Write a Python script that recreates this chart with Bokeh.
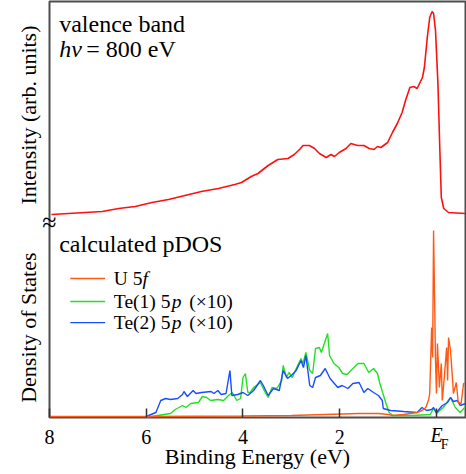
from bokeh.plotting import figure
from bokeh.models import Range1d, FixedTicker, LinearAxis
from bokeh.models import Label
from bokeh.embed import file_html
from bokeh.resources import INLINE
import math

# ---------------- data ----------------
vb_energy = [7.96, 7.26, 6.91, 6.57, 6.23, 5.88, 5.54, 5.20, 4.86, 4.51, 4.17, 4.03, 3.83, 3.69,
             3.48, 3.28, 3.07, 2.94, 2.83, 2.76, 2.63, 2.52, 2.42, 2.28, 2.18, 2.11, 2.01, 1.87,
             1.77, 1.63, 1.50, 1.39, 1.29, 1.22, 1.15, 1.01, 0.91, 0.81, 0.71, 0.64, 0.55, 0.47,
             0.40, 0.29, 0.25, 0.19, 0.14, 0.09, 0.06, 0.02, -0.03, -0.07, -0.10, -0.15, -0.25, -0.60]
vb_intensity = [0, 2, 3, 6, 8, 12, 15, 19, 23, 26, 30, 32, 38, 41,
                49, 55, 56, 60, 65, 69, 69, 66, 61, 57, 60, 58, 62, 66,
                71, 69, 69, 66, 65, 68, 67, 72, 82, 91, 102, 114, 127, 128,
                126, 137, 147, 177, 197, 203, 201, 184, 131, 64, 17, 6, 2, 1]

u5f_energy = [8.0, 6.0, 4.0, 3.0, 2.3, 1.6, 1.2, 1.0, 0.9, 0.68, 0.4, 0.3, 0.22, 0.16, 0.14, 0.10,
              0.08, 0.06, 0.02, 0.0, -0.02, -0.06, -0.10, -0.12, -0.16, -0.21, -0.23, -0.25, -0.29,
              -0.33, -0.35, -0.41, -0.45, -0.51, -0.56, -0.60]
u5f_dos = [1, 1, 1.5, 2, 3, 4, 4, 3, 2, 3, 5, 7, 10, 18, 24, 90,
           60, 187, 57, 24, 74, 30, 54, 17, 39, 70, 37, 80, 67,
           40, 24, 35, 15, 14, 34, 34]

te1_energy = [6.0, 5.76, 5.5, 5.4, 5.25, 5.18, 5.08, 4.92, 4.84, 4.75, 4.67, 4.52, 4.4, 4.3, 4.22,
              4.13, 4.05, 4.0, 3.95, 3.9, 3.85, 3.78, 3.64, 3.54, 3.48, 3.4, 3.3, 3.2, 3.17, 3.1,
              3.05, 2.98, 2.9, 2.8, 2.76, 2.7, 2.62, 2.56, 2.5, 2.42, 2.38, 2.25, 2.21, 2.12, 2.02,
              1.94, 1.85, 1.77, 1.62, 1.5, 1.4, 1.3, 1.22, 1.17, 1.05, 0.98, 0.9, 0.5, 0.13, 0.06,
              0.0, -0.14, -0.29, -0.39, -0.49, -0.6]
te1_dos = [0, 2, 4, 8, 12, 10, 14, 15, 21, 20, 17, 18, 17, 22, 25,
           17, 19, 40, 44, 25, 25, 30, 35, 25, 20, 30, 29, 37, 52, 40,
           45, 40, 49, 59, 54, 65, 47, 44, 69, 70, 65, 84, 62, 54, 50,
           44, 43, 47, 54, 54, 45, 49, 44, 34, 15, 5, 2, 2, 3, 9,
           4, 10, 20, 10, 5, 11]

te2_energy = [6.0, 5.8, 5.7, 5.6, 5.5, 5.35, 5.25, 5.22, 5.15, 5.03, 4.97, 4.86, 4.66, 4.6, 4.52,
              4.45, 4.35, 4.27, 4.23, 4.11, 4.0, 3.9, 3.78, 3.64, 3.58, 3.48, 3.37, 3.25, 3.17, 3.08,
              2.98, 2.9, 2.8, 2.75, 2.7, 2.62, 2.56, 2.5, 2.4, 2.3, 2.2, 2.04, 1.95, 1.83, 1.73,
              1.6, 1.5, 1.42, 1.3, 1.2, 1.12, 1.1, 0.95, 0.68, 0.4, 0.3, 0.2, 0.1, 0.06, 0.0,
              -0.12, -0.23, -0.29, -0.35, -0.43, -0.49, -0.6]
te2_dos = [1, 5, 17, 19, 18, 19, 23, 26, 21, 27, 24, 25, 26, 24, 27,
           23, 24, 47, 22, 23, 25, 22, 27, 37, 32, 22, 29, 27, 47, 39,
           43, 47, 57, 50, 62, 32, 30, 40, 42, 49, 39, 30, 32, 29, 34,
           35, 25, 29, 25, 22, 17, 9, 7, 6, 5, 10, 7, 8, 10, 5,
           12, 15, 20, 16, 17, 12, 14]

x_ticks = [8, 6, 4, 2, 0]
x_label = "Binding Energy (eV)"
y_label_top = "Intensity (arb. units)"
y_label_bottom = "Density of States"

# ---------------- layout helpers ----------------
FONT = "Liberation Serif"
PANEL = 416.0            # vertical units of the frame
TOP_OFFSET = 203.0       # baseline of the valence-band curve

def top_y(vals):
    return [(TOP_OFFSET + v) / PANEL for v in vals]

def bot_y(vals):
    return [v / PANEL for v in vals]

p = figure(width=466, height=474, output_backend="svg", toolbar_location=None,
           x_range=Range1d(8, -0.6), y_range=Range1d(0, 1), y_axis_location=None,
           min_border_left=48, min_border_right=1, min_border_top=1, min_border_bottom=57)
# helper ranges in frame pixels (for placing decorative axis texts)
p.extra_x_ranges = {"px": Range1d(48, 465)}
p.extra_y_ranges = {"px": Range1d(0, 416)}
p.grid.visible = False
p.background_fill_color = "white"
p.border_fill_color = "white"
p.outline_line_color = "#4d4d4d"
p.outline_line_width = 2

def plain_axis(ax):
    ax.major_tick_in = 0
    ax.major_tick_out = 0
    ax.major_tick_line_color = None
    ax.minor_tick_line_color = None
    ax.axis_line_color = None
    ax.major_label_text_font = FONT
    ax.major_label_text_color = "black"

ax = p.xaxis[0]
ax.ticker = FixedTicker(ticks=x_ticks)
ax.major_label_overrides = {0: ""}
ax.major_tick_in = 9
ax.major_tick_out = 0
ax.major_tick_line_color = "#333333"
ax.major_tick_line_width = 1.5
ax.minor_tick_line_color = None
ax.axis_line_color = None
ax.major_label_text_font = FONT
ax.major_label_text_font_size = "20px"
ax.major_label_text_color = "black"
ax.major_label_standoff = 12

# italic E of E_F
ax_e = LinearAxis(x_range_name="px", ticker=FixedTicker(ticks=[436]),
                  major_label_overrides={436: "E"})
plain_axis(ax_e)
ax_e.major_label_text_font_size = "20px"
ax_e.major_label_text_font_style = "italic"
ax_e.major_label_standoff = -23
p.add_layout(ax_e, "below")

# subscript F of E_F, carrying the axis title
ax_f = LinearAxis(x_range_name="px", ticker=FixedTicker(ticks=[444]),
                  major_label_overrides={444: "F"})
plain_axis(ax_f)
ax_f.major_label_text_font_size = "14px"
ax_f.major_label_standoff = -12
ax_f.axis_label = x_label
ax_f.axis_label_text_font = FONT
ax_f.axis_label_text_font_size = "22px"
ax_f.axis_label_text_font_style = "normal"
ax_f.axis_label_text_color = "black"
ax_f.axis_label_standoff = -11
p.add_layout(ax_f, "below")

# axis break mark on the left frame line
ax_brk = LinearAxis(y_range_name="px", ticker=FixedTicker(ticks=[195]),
                    major_label_overrides={195: "\u2248"})
plain_axis(ax_brk)
ax_brk.major_label_text_font_size = "26px"
ax_brk.major_label_standoff = -7
p.add_layout(ax_brk, "left")

# vertical titles of the two panels (label end anchored at the tick)
ax_lab = LinearAxis(y_range_name="px", ticker=FixedTicker(ticks=[392, 165]),
                    major_label_overrides={392: y_label_top, 165: y_label_bottom})
plain_axis(ax_lab)
ax_lab.major_label_text_font_size = "22px"
ax_lab.major_label_orientation = math.pi / 2
ax_lab.major_label_standoff = 11
p.add_layout(ax_lab, "left")

# curves
p.line(vb_energy, top_y(vb_intensity), line_color="#ff1010", line_width=1.6)
p.line(te1_energy, bot_y(te1_dos), line_color="#22e022", line_width=1.4)
p.line(te2_energy, bot_y(te2_dos), line_color="#1a4cff", line_width=1.4)
p.line(u5f_energy, bot_y(u5f_dos), line_color="#ff5a14", line_width=1.4)

# legend lines (decoration)
leg_y = [0.334, 0.279, 0.228]
leg_colors = ["#ff5a14", "#22e022", "#1a4cff"]
for yy, cc in zip(leg_y, leg_colors):
    p.line([7.57, 6.85], [yy, yy], line_color=cc, line_width=1.4)

def lab(x, y, text, size="24px", style="normal", align="left"):
    p.add_layout(Label(x=x, y=y, text=text, text_font=FONT, text_font_size=size,
                       text_font_style=style, text_align=align, text_baseline="middle",
                       text_color="black"))

lab(7.8, 0.947, "valence band")
lab(7.8, 0.887, "hv", style="italic")
lab(7.24, 0.887, "= 800 eV")
lab(7.8, 0.418, "calculated pDOS")

# legend texts
lab(6.67, leg_y[0], "U 5", size="19.5px")
lab(6.076, leg_y[0], "f", size="19.5px", style="italic")
for yy, name in zip(leg_y[1:], ["Te(1) 5", "Te(2) 5"]):
    lab(6.67, yy, name, size="19.5px")
    lab(5.475, yy, "p", size="19.5px", style="italic")
    lab(5.11, yy, "(\u00d710)", size="19.5px")

open("out.html", "w").write(file_html(p, INLINE))
